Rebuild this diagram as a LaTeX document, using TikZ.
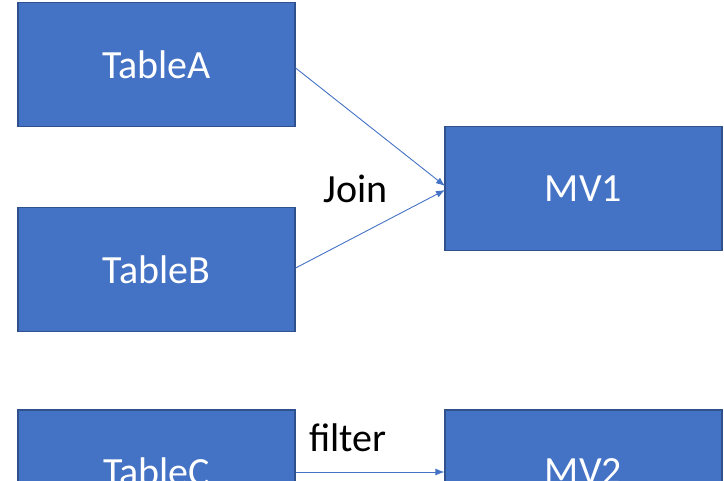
\documentclass[tikz,border=0pt]{standalone}
\usepackage{fontspec}
\setmainfont{Carlito}
\begin{document}
\begin{tikzpicture}[x=1pt,y=-1pt,
 box/.style={draw=boxedge,fill=boxfill,line width=1.2pt,minimum width=277pt,minimum height=124pt,inner sep=0pt,text=white,font=\fontsize{40}{46}\selectfont},
 arr/.style={draw=boxfill,line width=0.9pt,-{Latex[length=9pt,width=7pt]}},
 lab/.style={font=\fontsize{40}{46}\selectfont,text=black}]
\usetikzlibrary{arrows.meta}
\definecolor{boxfill}{HTML}{4472C4}
\definecolor{boxedge}{HTML}{2F528F}
\useasboundingbox (0,0) rectangle (724,481);
\clip (0,0) rectangle (724,481);
\node[box] (A) at (156.5,64.5) {\raisebox{-3pt}{TableA}};
\node[box] (B) at (156.5,269.5) {\raisebox{-3pt}{TableB}};
\node[box] (C) at (156.5,472) {\raisebox{-3pt}{TableC}};
\node[box] (M1) at (583.5,188.5) {\raisebox{-3pt}{MV1}};
\node[box] (M2) at (583.5,472) {\raisebox{-3pt}{MV2}};
\coordinate (t1) at (445,186);
\coordinate (t2) at (445,190);
\draw[arr] (A.east |- 0,68) -- (t1);
\draw[arr] (B.east |- 0,268) -- (t2);
\draw[arr] (C.east |- 0,472) -- (M2.west |- 0,472);
\node[lab] (j) at (356,189) {Join};
\node[lab] (f) at (348,438) {filter};
\end{tikzpicture}
\end{document}
